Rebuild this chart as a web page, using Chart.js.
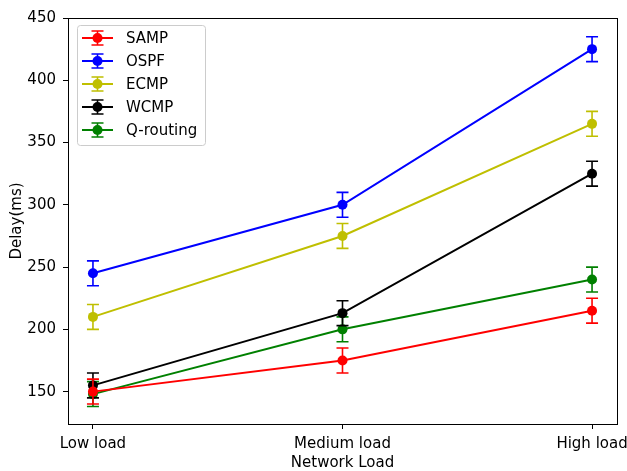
<!DOCTYPE html>
<html>
<head>
  <script src="https://cdn.jsdelivr.net/npm/chart.js"></script>
  <style>
    html, body { margin: 0; padding: 0; background: #fff; }
    #wrap { width: 627px; height: 471px; }
  </style>
</head>
<body>
  <div id="wrap"><canvas id="chart" width="627" height="471"></canvas></div>

  <script>
    // categories on the x axis
    const loads = ['Low load', 'Medium load', 'High load']
    const yTicks = [150, 200, 250, 300, 350, 400, 450]

    // delay in ms
    const samp = [150, 175, 215]
    const ospf = [245, 300, 425]
    const ecmp = [210, 275, 365]
    const wcmp = [155, 213, 325]
    const qrouting = [148, 200, 240]

    // error bar half-widths
    const sampErr = [10, 10, 10]
    const ospfErr = [10, 10, 10]
    const ecmpErr = [10, 10, 10]
    const wcmpErr = [10, 10, 10]
    const qroutingErr = [10, 10, 10]

    const FONT = 'DejaVu Sans'

    function series(label, values, errs, color) {
      return {
        label: label,
        data: values.map((v, i) => ({ x: i, y: v })),
        errs: errs,
        borderColor: color,
        backgroundColor: color,
        pointBackgroundColor: color,
        pointBorderWidth: 0,
        pointRadius: 5,
        pointHoverRadius: 5,
        borderWidth: 2,
        tension: 0
      }
    }

    // error bars, drawn right before each dataset so the markers sit on top
    const errorBars = {
      id: 'errorBars',
      beforeDatasetDraw(chart, args) {
        const ds = chart.data.datasets[args.index]
        const xs = chart.scales.x, ys = chart.scales.y
        const ctx = chart.ctx
        ctx.save()
        ctx.strokeStyle = ds.borderColor
        ctx.lineWidth = 1.6
        ds.data.forEach((p, i) => {
          const x = xs.getPixelForValue(p.x)
          const top = ys.getPixelForValue(p.y + ds.errs[i])
          const bot = ys.getPixelForValue(p.y - ds.errs[i])
          ctx.beginPath()
          ctx.moveTo(x, top); ctx.lineTo(x, bot)
          ctx.moveTo(x - 6, top); ctx.lineTo(x + 6, top)
          ctx.moveTo(x - 6, bot); ctx.lineTo(x + 6, bot)
          ctx.stroke()
        })
        ctx.restore()
      }
    }

    // top and right spines plus the framed legend inside the plot
    const frameAndLegend = {
      id: 'frameAndLegend',
      afterDraw(chart) {
        const ctx = chart.ctx
        const a = chart.chartArea
        ctx.save()
        ctx.strokeStyle = '#000'
        ctx.lineWidth = 1
        ctx.strokeRect(a.left + 0.5, a.top + 0.5, a.right - a.left, a.bottom - a.top)

        const lx = a.left + 9, ly = a.top + 7, lw = 128, lh = 120
        ctx.fillStyle = 'rgba(255,255,255,0.8)'
        ctx.strokeStyle = '#cccccc'
        ctx.beginPath()
        ctx.roundRect(lx + 0.5, ly + 0.5, lw, lh, 3)
        ctx.fill()
        ctx.stroke()

        ctx.font = '15px "' + FONT + '"'
        ctx.textBaseline = 'middle'
        chart.data.datasets.forEach((ds, i) => {
          const y = ly + 13 + i * 23
          const x0 = lx + 5, x1 = lx + 36, xm = (x0 + x1) / 2
          ctx.strokeStyle = ds.borderColor
          ctx.lineWidth = 2
          ctx.beginPath()
          ctx.moveTo(x0, y); ctx.lineTo(x1, y)
          ctx.stroke()
          ctx.lineWidth = 1.6
          ctx.beginPath()
          ctx.moveTo(xm, y - 7); ctx.lineTo(xm, y + 7)
          ctx.moveTo(xm - 6, y - 7); ctx.lineTo(xm + 6, y - 7)
          ctx.moveTo(xm - 6, y + 7); ctx.lineTo(xm + 6, y + 7)
          ctx.stroke()
          ctx.fillStyle = ds.borderColor
          ctx.beginPath()
          ctx.arc(xm, y, 5, 0, Math.PI * 2)
          ctx.fill()
          ctx.fillStyle = '#000'
          ctx.fillText(ds.label, lx + 49, y + 1)
        })
        ctx.restore()
      }
    }

    const tickFont = { family: FONT, size: 15 }

    new Chart(document.getElementById('chart'), {
      type: 'line',
      data: {
        datasets: [
          series('SAMP', samp, sampErr, '#ff0000'),
          series('OSPF', ospf, ospfErr, '#0000ff'),
          series('ECMP', ecmp, ecmpErr, '#bfbf00'),
          series('WCMP', wcmp, wcmpErr, '#000000'),
          series('Q-routing', qrouting, qroutingErr, '#008000')
        ]
      },
      options: {
        responsive: false,
        animation: false,
        layout: { padding: { top: 18, right: 10, left: 0, bottom: 0 } },
        plugins: {
          legend: { display: false },
          tooltip: { enabled: false }
        },
        scales: {
          x: {
            type: 'linear',
            min: -0.1,
            max: 2.1,
            afterBuildTicks: s => { s.ticks = loads.map((_, i) => ({ value: i })) },
            afterFit: s => { s.height = 47; s.paddingLeft = 0; s.paddingRight = 0 },
            ticks: {
              color: '#000',
              font: tickFont,
              padding: 6,
              maxRotation: 0,
              callback: v => loads[v]
            },
            grid: { drawOnChartArea: false, drawTicks: true, tickLength: 5, color: '#000' },
            border: { display: true, color: '#000', width: 1 },
            title: {
              display: true,
              text: 'Network Load',
              color: '#000',
              font: tickFont,
              padding: { top: 0, bottom: -1 }
            }
          },
          y: {
            min: 124,
            max: 450,
            afterBuildTicks: s => { s.ticks = yTicks.map(v => ({ value: v })) },
            afterFit: s => { s.width = 68 },
            ticks: {
              color: '#000',
              font: tickFont,
              padding: 7
            },
            grid: { drawOnChartArea: false, drawTicks: true, tickLength: 5, color: '#000' },
            border: { display: true, color: '#000', width: 1 },
            title: {
              display: true,
              text: 'Delay(ms)',
              color: '#000',
              font: tickFont,
              padding: { top: 8, bottom: 0 }
            }
          }
        }
      },
      plugins: [errorBars, frameAndLegend]
    })
  </script>
</body>
</html>
